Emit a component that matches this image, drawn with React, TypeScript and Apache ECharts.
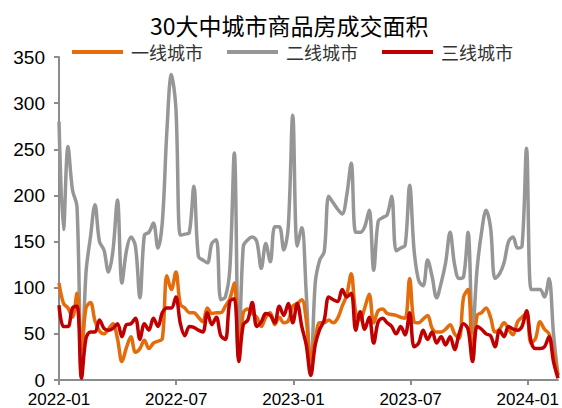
import React, { useEffect, useRef } from "react";
import * as echarts from "echarts";

const seriesNames = ["一线城市", "二线城市", "三线城市"];
const xTickLabels = ["2022-01", "2022-07", "2023-01", "2023-07", "2024-01"];
const daysPerHalfYear = 182.5;
const daysPerWeek = 7;
const tier1 = [
  105, 83, 78, 68, 94, 33, 78, 84, 64, 53,
  50, 55, 61, 45, 20, 35, 47, 30, 34, 43,
  34, 40, 42, 45, 113, 98, 117, 82, 78, 73,
  73, 68, 63, 78, 72, 73, 73, 80, 88, 105,
  25, 73, 77, 72, 68, 58, 68, 73, 60, 68,
  62, 64, 80, 83, 87, 65, 22, 45, 62, 62,
  65, 62, 67, 80, 92, 115, 73, 65, 78, 93,
  62, 75, 77, 72, 71, 70, 68, 67, 110, 63,
  62, 66, 70, 56, 52, 52, 55, 60, 50, 45,
  90, 98, 22, 70, 73, 78, 68, 52, 55, 62,
  55, 49, 63, 68, 72, 40, 45, 63, 55, 50,
  30, 5,
];
const tier2 = [
  280, 163, 253, 206, 188, 5, 116, 155, 190, 150,
  141, 117, 140, 195, 105, 140, 155, 145, 89, 157,
  160, 170, 143, 172, 270, 331, 295, 157, 158, 160,
  210, 134, 130, 127, 148, 152, 87, 90, 120, 246,
  25, 145, 152, 155, 150, 121, 148, 128, 166, 166,
  141, 166, 287, 145, 165, 94, 7, 105, 130, 139,
  199, 192, 185, 180, 200, 235, 160, 160, 166, 184,
  119, 172, 176, 179, 199, 140, 143, 146, 211, 140,
  108, 102, 130, 112, 89, 105, 127, 160, 125, 110,
  112, 160, 51, 120, 160, 184, 165, 110, 115, 127,
  150, 155, 143, 145, 251, 98, 98, 98, 90, 110,
  50, 5,
];
const tier3 = [
  81, 58, 58, 78, 80, 2, 45, 52, 52, 65,
  56, 54, 56, 61, 47, 60, 61, 67, 44, 61,
  54, 67, 58, 73, 78, 78, 90, 61, 48, 58,
  57, 54, 52, 73, 60, 68, 48, 44, 85, 88,
  20, 60, 65, 84, 58, 63, 72, 70, 62, 80,
  70, 83, 62, 83, 58, 38, 5, 38, 55, 65,
  90, 87, 85, 98, 90, 94, 54, 74, 55, 68,
  40, 63, 67, 62, 58, 50, 58, 49, 73, 36,
  40, 54, 44, 52, 40, 47, 38, 47, 33, 50,
  61, 55, 20, 58, 55, 50, 48, 36, 54, 47,
  58, 55, 54, 58, 75, 42, 34, 34, 36, 47,
  20, 2,
];
const yTicks = { min: 0, max: 350, interval: 50 };
const colors = ["#E46C0A", "#969696", "#C00000"];

export default function App() {
  const ref = useRef<HTMLDivElement>(null);
  useEffect(() => {
    if (!ref.current) return;
    const chart = echarts.init(ref.current, undefined, { renderer: "svg" });
    const all = [tier1, tier2, tier3];
    const sans = "'Liberation Sans', Arial, sans-serif";
    const cjk = "'Noto Sans CJK SC', sans-serif";
    const lastDay = (tier1.length - 1) * daysPerWeek;
    chart.setOption({
      animation: false,
      backgroundColor: "#ffffff",
      title: {
        text: "30大中城市商品房成交面积",
        left: 145,
        top: 8,
        textStyle: { fontFamily: cjk, fontSize: 23, fontWeight: "normal", color: "#000" },
      },
      legend: {
        data: seriesNames,
        left: 67,
        top: 38,
        icon: "rect",
        itemWidth: 51,
        itemHeight: 4,
        itemGap: 24,
        textStyle: { fontFamily: cjk, fontSize: 18, color: "#333", padding: [0, 0, 0, 3] },
      },
      grid: { left: 59, right: 0, top: 57, bottom: 28, containLabel: false },
      xAxis: {
        type: "value",
        min: 0,
        max: lastDay,
        interval: daysPerHalfYear,
        axisLine: { show: true, lineStyle: { color: "#8c8c8c", width: 2 } },
        axisTick: { show: true, length: 5, lineStyle: { color: "#8c8c8c", width: 2 } },
        splitLine: { show: false },
        axisLabel: {
          formatter: (v: number) => xTickLabels[Math.round(v / daysPerHalfYear)] ?? "",
          fontFamily: sans,
          fontSize: 17,
          color: "#000",
          margin: 11,
          showMaxLabel: false,
        },
      },
      yAxis: {
        type: "value",
        min: yTicks.min,
        max: yTicks.max,
        interval: yTicks.interval,
        axisLine: { show: true, lineStyle: { color: "#8c8c8c", width: 2 } },
        axisTick: { show: true, length: 5, lineStyle: { color: "#8c8c8c", width: 2 } },
        splitLine: { show: false },
        axisLabel: { fontFamily: sans, fontSize: 19, color: "#000", margin: 14 },
      },
      series: all.map((vals, k) => ({
        name: seriesNames[k],
        type: "line",
        data: vals.map((v, i) => [i * daysPerWeek, v]),
        showSymbol: false,
        symbol: "none",
        smooth: 0.35,
        z: k === 1 ? 1 : k === 0 ? 2 : 3,
        lineStyle: { color: colors[k], width: 3.5 },
        itemStyle: { color: colors[k] },
      })),
    });
    return () => chart.dispose();
  }, []);
  return (
    <div
      ref={ref}
      style={{ position: "fixed", left: 0, top: 0, width: 562, height: 408, background: "#fff" }}
    />
  );
}
